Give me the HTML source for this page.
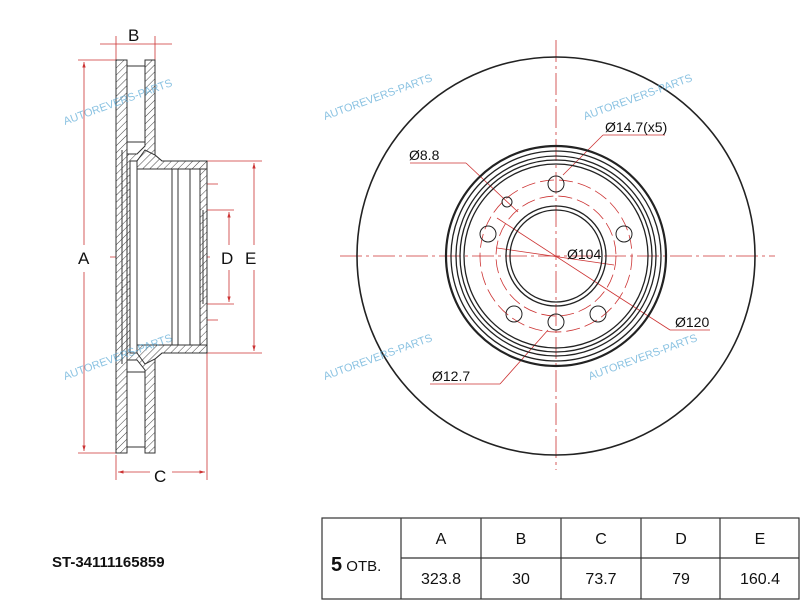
<!DOCTYPE html>
<html><head><meta charset="utf-8"><style>
body{margin:0;background:#fff;width:800px;height:600px;overflow:hidden}
svg{display:block;font-family:"Liberation Sans",Arial,sans-serif}
</style></head><body>
<svg width="800" height="600" viewBox="0 0 800 600" xmlns="http://www.w3.org/2000/svg">
<defs>
<pattern id="h" width="5" height="5" patternUnits="userSpaceOnUse" patternTransform="rotate(45)">
<rect width="5" height="5" fill="#fff"/><line x1="0" y1="0" x2="0" y2="5" stroke="#444" stroke-width="1"/>
</pattern>
<marker id="a" viewBox="0 0 10 10" refX="10" refY="5" markerWidth="7" markerHeight="7" orient="auto-start-reverse"><path d="M0,2 L10,5 L0,8 z" fill="#c33"/></marker>
</defs>
<g fill="none" stroke="#c33" stroke-width="0.8">
<line x1="116" y1="60" x2="116" y2="36"/><line x1="155" y1="60" x2="155" y2="36"/>
<line x1="100" y1="44" x2="172" y2="44"/>
<line x1="78" y1="60" x2="116" y2="60"/><line x1="78" y1="453" x2="116" y2="453"/>
<line x1="84" y1="62" x2="84" y2="245" marker-start="url(#a)"/><line x1="84" y1="272" x2="84" y2="451" marker-end="url(#a)"/>
<line x1="116" y1="455" x2="116" y2="480"/><line x1="207" y1="353" x2="207" y2="480"/>
<line x1="118" y1="472" x2="150" y2="472" marker-start="url(#a)"/><line x1="172" y1="472" x2="205" y2="472" marker-end="url(#a)"/>
<line x1="207" y1="161" x2="262" y2="161"/><line x1="207" y1="353" x2="262" y2="353"/>
<line x1="254" y1="163" x2="254" y2="245" marker-start="url(#a)"/><line x1="254" y1="270" x2="254" y2="351" marker-end="url(#a)"/>
<line x1="205" y1="210" x2="234" y2="210"/><line x1="205" y1="304" x2="234" y2="304"/>
<line x1="229" y1="212" x2="229" y2="245" marker-start="url(#a)"/><line x1="229" y1="270" x2="229" y2="302" marker-end="url(#a)"/>
<line x1="110" y1="257" x2="210" y2="257" stroke-dasharray="18,4,3,4"/>
<line x1="193" y1="184" x2="218" y2="184"/><line x1="193" y1="320" x2="218" y2="320"/>
</g>
<g stroke="#333" stroke-width="1">
<path d="M116 60 H127 V453 H116 Z" fill="url(#h)"/>
<path d="M145 60 H155 V155 L162 161 H207 V353 H162 L155 359 V453 H145 V370 L137 360 H127 V154 H137 L145 146 Z" fill="url(#h)"/>
<rect x="130" y="161" width="77" height="192" fill="#fff"/>
<path d="M137 161 L145 150 L155 155 L162 161 H207 V169 H137 Z" fill="url(#h)"/>
<path d="M137 353 L145 364 L155 359 L162 353 H207 V345 H137 Z" fill="url(#h)"/>
<path d="M200 169 H207 V345 H200 Z" fill="url(#h)"/>
<line x1="127" y1="160" x2="127" y2="355"/><line x1="122" y1="150" x2="122" y2="364"/>
<line x1="137" y1="169" x2="137" y2="345"/><line x1="172" y1="169" x2="172" y2="345"/>
<line x1="178" y1="169" x2="178" y2="345"/><line x1="190" y1="169" x2="190" y2="345"/>
<line x1="203" y1="210" x2="203" y2="304"/>
<line x1="127" y1="66" x2="145" y2="66"/><line x1="127" y1="447" x2="145" y2="447"/>
<line x1="127" y1="142" x2="145" y2="142"/><line x1="127" y1="372" x2="145" y2="372"/>
</g>
<g font-size="17" fill="#111">
<text x="128" y="41">B</text><text x="78" y="264">A</text><text x="154" y="482">C</text>
<text x="221" y="264">D</text><text x="245" y="264">E</text>
</g>
<g fill="none" stroke="#c33" stroke-width="0.8">
<line x1="556" y1="40" x2="556" y2="470" stroke-dasharray="22,4,3,4"/>
<line x1="340" y1="256" x2="775" y2="256" stroke-dasharray="22,4,3,4"/>
<circle cx="556" cy="256" r="60" stroke-dasharray="14,5"/>
<circle cx="556" cy="256" r="76" stroke-dasharray="14,5"/>
<line x1="497" y1="248" x2="614" y2="265"/>
<line x1="497" y1="218" x2="614" y2="294"/>
<line x1="410" y1="163" x2="466" y2="163"/><line x1="466" y1="163" x2="518" y2="212"/>
<line x1="603" y1="135" x2="665" y2="135"/><line x1="603" y1="135" x2="563" y2="175"/>
<line x1="670" y1="330" x2="614" y2="294"/><line x1="670" y1="330" x2="710" y2="330"/>
<line x1="430" y1="384" x2="500" y2="384"/><line x1="500" y1="384" x2="548" y2="330"/>
</g>
<g fill="none" stroke="#222">
<circle cx="556" cy="256" r="199" stroke-width="1.6"/>
<circle cx="556" cy="256" r="110" stroke-width="2.2"/>
<circle cx="556" cy="256" r="105" stroke-width="1.3"/><circle cx="556" cy="256" r="100" stroke-width="1.3"/>
<circle cx="556" cy="256" r="96" stroke-width="1.3"/><circle cx="556" cy="256" r="92" stroke-width="1.3"/>
<circle cx="556" cy="256" r="50" stroke-width="1.3"/><circle cx="556" cy="256" r="46" stroke-width="1.3"/>
<circle cx="556" cy="184" r="8"/><circle cx="624" cy="234" r="8"/>
<circle cx="598" cy="314" r="8"/><circle cx="514" cy="314" r="8"/>
<circle cx="488" cy="234" r="8"/><circle cx="556" cy="322" r="8"/>
<circle cx="507" cy="202" r="5"/>
</g>
<g font-size="14" fill="#111">
<text x="409" y="160">Ø8.8</text><text x="605" y="132">Ø14.7(x5)</text>
<text x="567" y="259">Ø104</text><text x="675" y="327">Ø120</text>
<text x="432" y="381">Ø12.7</text>
</g>
<g fill="#5aa9d6" opacity="0.7" font-size="11">
<text transform="translate(65,125) rotate(-20)">AUTOREVERS-PARTS</text>
<text transform="translate(325,120) rotate(-20)">AUTOREVERS-PARTS</text>
<text transform="translate(585,120) rotate(-20)">AUTOREVERS-PARTS</text>
<text transform="translate(65,380) rotate(-20)">AUTOREVERS-PARTS</text>
<text transform="translate(325,380) rotate(-20)">AUTOREVERS-PARTS</text>
<text transform="translate(590,380) rotate(-20)">AUTOREVERS-PARTS</text>
</g>
<text x="52" y="567" font-size="15" font-weight="bold" fill="#111">ST-34111165859</text>
<g stroke="#333" stroke-width="1.2" fill="none">
<rect x="322" y="518" width="477" height="81"/>
<line x1="401" y1="518" x2="401" y2="599"/>
<line x1="401" y1="558" x2="799" y2="558"/>
<line x1="481" y1="518" x2="481" y2="599"/><line x1="561" y1="518" x2="561" y2="599"/>
<line x1="641" y1="518" x2="641" y2="599"/><line x1="720" y1="518" x2="720" y2="599"/>
</g>
<g font-size="16" fill="#111" text-anchor="middle">
<text x="441" y="544">A</text><text x="521" y="544">B</text><text x="601" y="544">C</text><text x="681" y="544">D</text><text x="760" y="544">E</text>
<text x="441" y="584">323.8</text><text x="521" y="584">30</text><text x="601" y="584">73.7</text><text x="681" y="584">79</text><text x="760" y="584">160.4</text>
</g>
<text x="331" y="571" fill="#111"><tspan font-size="20" font-weight="bold">5</tspan><tspan font-size="15"> ОТВ.</tspan></text>
</svg>
</body></html>
